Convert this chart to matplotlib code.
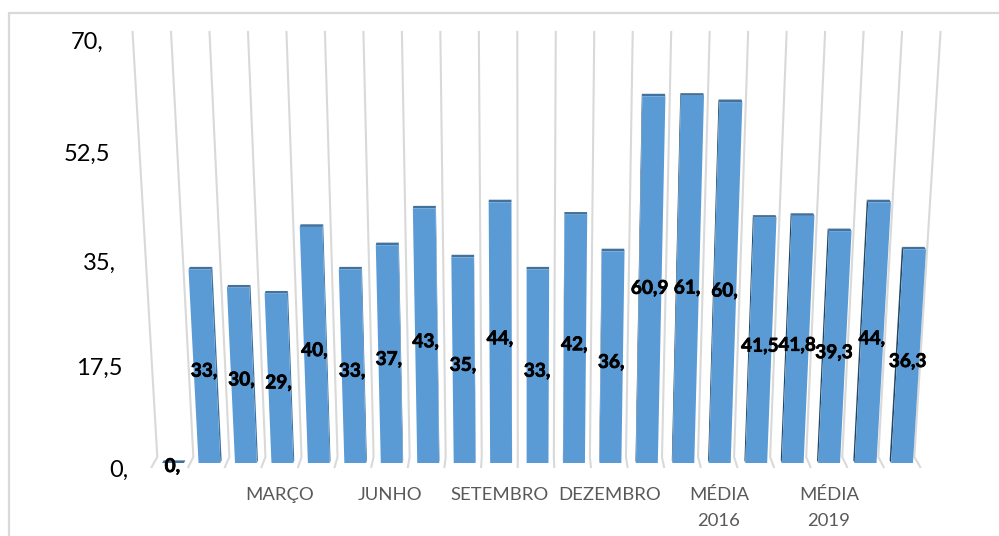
import matplotlib
matplotlib.use("Agg")
import matplotlib.pyplot as plt
from matplotlib.patches import Polygon
import matplotlib.patheffects as pe

plt.rcParams['font.family'] = ['Lato', 'DejaVu Sans']

values = [0, 33, 30, 29, 40, 33, 37, 43, 35, 44, 33, 42, 36, 60.9, 61, 60, 41.5, 41.8, 39.3, 44, 36.3]
categories = ['', '', '', 'MARÇO', '', '', 'JUNHO', '', '', 'SETEMBRO', '', '', 'DEZEMBRO',
              '', '', 'MÉDIA\n2016', '', '', 'MÉDIA\n2019', '', '']
y_ticks = [0, 17.5, 35, 52.5, 70]
y_tick_labels = ['0,', '17,5', '35,', '52,5', '70,']

W, H = 999, 536
CX, CU = 525.0, 10.2      # vanishing column
PERSP = 0.0009


def front_x(u, v, t=0.0):
    return CX + 1.6 + (u - CU) * 36.45 / (1 - PERSP * v) * (1 - 0.004 * t)


def front_y(v, t=0.0):
    return 463 - 5.69 * v / (1 - PERSP * v) - 2.6 * t


def wall_x(u, v):
    return CX + (u - CU) * 36.05 / (1 - PERSP * v)


def wall_y(v):
    return 457 - 5.69 * v / (1 - PERSP * v)


def floor_x(u):
    return CX + (u - CU) * 36.6


fig = plt.figure(figsize=(W / 100, H / 100), dpi=100)
ax = fig.add_axes([0, 0, 1, 1])
ax.set_xlim(0, W)
ax.set_ylim(H, 0)
ax.axis('off')

# chart frame (top and left edges visible)
ax.plot([9, 9, W], [H, 12.5, 12.5], color='#d9d9d9', lw=1.6, solid_capstyle='butt', zorder=1)

# category separators: back wall + floor
n = len(values)
vmax = max(y_ticks)
for i in range(n + 1):
    ax.plot([wall_x(i, vmax), wall_x(i, 0), floor_x(i)], [wall_y(vmax), wall_y(0), 467],
            color='#d9d9d9', lw=1.5, solid_joinstyle='round', zorder=2)

# y axis labels
for v, lab in zip(y_ticks, y_tick_labels):
    ax.text(wall_x(0, v) - 29, wall_y(v) + 13 - 0.04 * v, lab, ha='right', va='center',
            fontsize=17, color='black', zorder=6)

# bars
BAR = 0.6
for i, v in enumerate(values):
    l, r = i + 0.5 - BAR / 2, i + 0.5 + BAR / 2
    # side face towards the vanishing column
    edge = r if i + 0.5 < CU else l
    side = '#41719c' if i + 0.5 < CU else '#24465f'
    ax.add_patch(Polygon([(front_x(edge, 0), front_y(0)), (front_x(edge, v), front_y(v)),
                          (front_x(edge, v, 1), front_y(v, 1)), (front_x(edge, 0, 1), front_y(0, 1))],
                         closed=True, fc=side, ec='none', zorder=3))
    # top face
    ax.add_patch(Polygon([(front_x(l, v), front_y(v)), (front_x(r, v), front_y(v)),
                          (front_x(r, v, 1), front_y(v, 1)), (front_x(l, v, 1), front_y(v, 1))],
                         closed=True, fc='#41719c', ec='none', zorder=3))
    # front face
    if v > 0:
        ax.add_patch(Polygon([(front_x(l, 0), front_y(0)), (front_x(r, 0), front_y(0)),
                              (front_x(r, v), front_y(v)), (front_x(l, v), front_y(v))],
                             closed=True, fc='#5b9bd5', ec='none', zorder=4))
    # data label
    txt = f'{v:g}'.replace('.', ',')
    if ',' not in txt:
        txt += ','
    t = ax.text(front_x(i + 0.5, v / 2) - 0.6, front_y(v / 2) + 3.5, txt, ha='center', va='center',
                fontsize=13.7, fontweight='bold', color='black', zorder=7)
    t.set_path_effects([pe.withStroke(linewidth=0.5, foreground='black')])

# category labels
for i, lab in enumerate(categories):
    if lab:
        for k, part in enumerate(lab.split('\n')):
            ax.text(floor_x(i + 0.5), 495 + 26 * k, part, ha='center', va='center',
                    fontsize=13.3, color='#595959', zorder=6)

fig.savefig('out.png', dpi=100)
